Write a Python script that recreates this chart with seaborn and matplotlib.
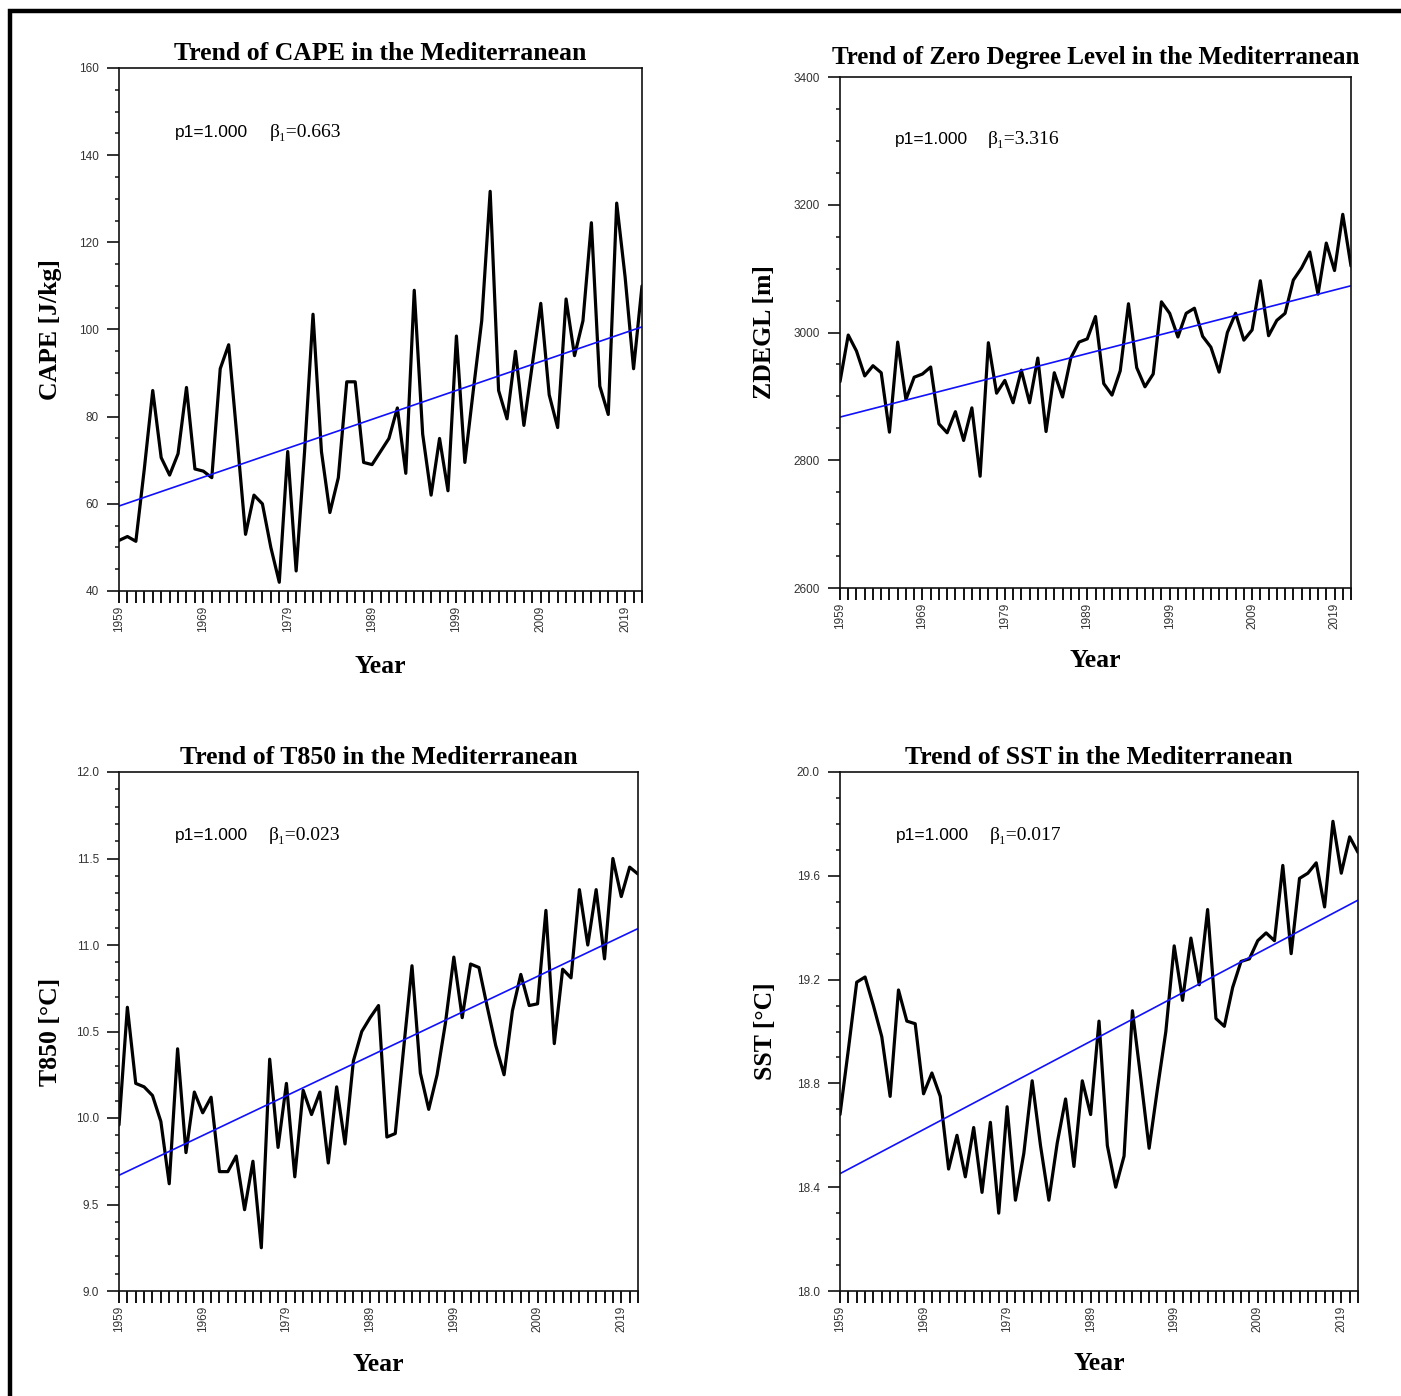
import matplotlib

matplotlib.use("Agg")
import matplotlib.pyplot as plt
import numpy as np
import pandas as pd
import seaborn as sns
from matplotlib.lines import Line2D
from matplotlib.ticker import FixedLocator, FormatStrFormatter, MultipleLocator

# Série anual 1959–2021
years = list(range(1959, 2022))

cape = [51.6, 52.5, 51.4, 68.0, 86.0, 70.6, 66.6, 71.5, 86.7, 68.0, 67.5,
        66.0, 91.0, 96.5, 75.0, 53.0, 62.0, 60.0, 50.0, 42.0, 72.0, 44.6,
        72.0, 103.5, 72.0, 58.0, 66.0, 88.0, 88.0, 69.5, 69.0, 72.0, 75.0,
        82.0, 67.0, 109.0, 76.0, 62.0, 75.0, 63.0, 98.5, 69.5, 86.0, 102.0,
        131.7, 86.0, 79.5, 95.0, 78.0, 92.0, 106.0, 85.0, 77.5, 107.0, 94.0,
        102.0, 124.5, 87.0, 80.5, 129.0, 112.0, 91.0, 110.0]

zdegl = [2923, 2996, 2971, 2932, 2948, 2937, 2844, 2985, 2895, 2930, 2935,
         2946, 2857, 2843, 2876, 2831, 2882, 2775, 2984, 2905, 2925, 2890,
         2941, 2890, 2960, 2845, 2937, 2899, 2960, 2985, 2990, 3025, 2920,
         2902, 2940, 3045, 2945, 2915, 2935, 3048, 3030, 2993, 3030, 3038,
         2994, 2977, 2938, 3000, 3030, 2988, 3004, 3081, 2995, 3019, 3030,
         3082, 3101, 3126, 3060, 3140, 3097, 3185, 3104]

t850 = [9.96, 10.64, 10.20, 10.18, 10.13, 9.98, 9.62, 10.40, 9.80, 10.15,
        10.03, 10.12, 9.69, 9.69, 9.78, 9.47, 9.75, 9.25, 10.34, 9.83, 10.20,
        9.66, 10.16, 10.02, 10.15, 9.74, 10.18, 9.85, 10.33, 10.50, 10.58,
        10.65, 9.89, 9.91, 10.40, 10.88, 10.26, 10.05, 10.25, 10.55, 10.93,
        10.58, 10.89, 10.87, 10.64, 10.42, 10.25, 10.62, 10.83, 10.65, 10.66,
        11.20, 10.43, 10.86, 10.81, 11.32, 11.00, 11.32, 10.92, 11.50, 11.28,
        11.45, 11.41]

sst = [18.68, 18.93, 19.19, 19.21, 19.10, 18.98, 18.75, 19.16, 19.04, 19.03,
       18.76, 18.84, 18.75, 18.47, 18.60, 18.44, 18.63, 18.38, 18.65, 18.30,
       18.71, 18.35, 18.53, 18.81, 18.56, 18.35, 18.57, 18.74, 18.48, 18.81,
       18.68, 19.04, 18.56, 18.40, 18.52, 19.08, 18.82, 18.55, 18.78, 19.00,
       19.33, 19.12, 19.36, 19.18, 19.47, 19.05, 19.02, 19.17, 19.27, 19.28,
       19.35, 19.38, 19.35, 19.64, 19.30, 19.59, 19.61, 19.65, 19.48, 19.81,
       19.61, 19.75, 19.69]

titles = [
    "Trend of CAPE in the Mediterranean",
    "Trend of Zero Degree Level in the Mediterranean",
    "Trend of T850 in the Mediterranean",
    "Trend of SST in the Mediterranean",
]
ylabels = ["CAPE [J/kg]", "ZDEGL [m]", "T850 [°C]", "SST [°C]"]
betas = [0.663, 3.316, 0.023, 0.017]
p1_vals = [1.000, 1.000, 1.000, 1.000]
major_years = list(range(1959, 2020, 10))

W, H = 1401, 1396
SERIF = ["Liberation Serif", "DejaVu Serif"]
SANS = ["Liberation Sans", "DejaVu Sans"]

sns.set_theme(style="ticks")
plt.rcParams["font.family"] = SANS
plt.rcParams["text.color"] = "black"
plt.rcParams["axes.labelcolor"] = "black"
plt.rcParams["axes.titlecolor"] = "black"

# layout em pixels: (esquerda, topo, largura, altura)
panel_cfg = [
    dict(values=cape, rect=(119, 68, 523, 523), ylim=(40, 160), major=20,
         minor=5, fmt="%d", tpad=5.5, tsize=18.5, ylx=-0.109, xly=-0.122),
    dict(values=zdegl, rect=(840, 77, 511, 511), ylim=(2600, 3400),
         major=200, minor=50, fmt="%d", tpad=9.5, tsize=18.0, ylx=-0.125,
         xly=-0.119),
    dict(values=t850, rect=(119, 772, 519, 519), ylim=(9.0, 12.0),
         major=0.5, minor=0.1, fmt="%.1f", tpad=6, tsize=18.5, ylx=-0.11,
         xly=-0.119),
    dict(values=sst, rect=(840, 772, 518, 519), ylim=(18.0, 20.0),
         major=0.4, minor=0.1, fmt="%.1f", tpad=6, tsize=18.5, ylx=-0.122,
         xly=-0.118),
]


def draw_panel(fig, cfg, title, ylabel, beta, p1):
    left, top, w, h = cfg["rect"]
    ax = fig.add_axes([left / W, 1 - (top + h) / H, w / W, h / H])

    df = pd.DataFrame({"Year": years, "value": cfg["values"]})
    # reta de tendência com inclinação beta passando pela média
    xm = df["Year"].mean()
    ym = df["value"].mean()
    df["trend"] = ym + beta * (df["Year"] - xm)

    sns.lineplot(data=df, x="Year", y="value", color="black", linewidth=2.3,
                 ax=ax)
    sns.lineplot(data=df, x="Year", y="trend", color="#1010ff",
                 linewidth=1.2, ax=ax)

    ax.set_xlim(years[0], years[-1])
    ax.set_ylim(*cfg["ylim"])

    ax.xaxis.set_major_locator(FixedLocator(major_years))
    ax.xaxis.set_minor_locator(FixedLocator(years))
    ax.yaxis.set_major_locator(MultipleLocator(cfg["major"]))
    ax.yaxis.set_minor_locator(MultipleLocator(cfg["minor"]))
    ax.yaxis.set_major_formatter(FormatStrFormatter(cfg["fmt"]))

    ax.tick_params(axis="x", which="both", direction="out", length=8.5,
                   width=1.4, color="#111111", pad=2, labelsize=8.5,
                   labelcolor="#333333", labelrotation=90)
    ax.tick_params(axis="y", which="major", direction="out", length=8.5,
                   width=1.2, color="#111111", pad=6, labelsize=8.5,
                   labelcolor="#333333")
    ax.tick_params(axis="y", which="minor", direction="out", length=3,
                   width=1.1, color="#111111")
    for lab in ax.get_xticklabels():
        lab.set_fontfamily(SANS)
    for sp in ax.spines.values():
        sp.set_visible(True)
        sp.set_linewidth(1.2)
        sp.set_color("#111111")

    ax.set_title(title, fontsize=cfg["tsize"], fontweight="bold",
                 family=SERIF, pad=cfg["tpad"], color="black")
    ax.set_ylabel(ylabel, fontsize=18.5, fontweight="bold", family=SERIF,
                  color="black")
    ax.set_xlabel("Year", fontsize=18.5, fontweight="bold", family=SERIF,
                  color="black")
    ax.yaxis.set_label_coords(cfg["ylx"], 0.5)
    ax.xaxis.set_label_coords(0.5, cfg["xly"])

    ax.text(0.107, 0.877, "p1=%.3f" % p1, transform=ax.transAxes,
            fontsize=12.5, family=SANS, va="center", color="black")
    ax.text(0.289, 0.877, "β₁=%.3f" % beta, transform=ax.transAxes,
            fontsize=14, family=SERIF, va="center", color="black")
    return ax


fig = plt.figure(figsize=(W / 100, H / 100), dpi=100)
fig.patch.set_facecolor("white")

for cfg, title, ylabel, beta, p1 in zip(panel_cfg, titles, ylabels, betas,
                                        p1_vals):
    draw_panel(fig, cfg, title, ylabel, beta, p1)

# moldura preta (topo e esquerda)
fig.add_artist(Line2D([9.5 / W, 9.5 / W, 1.0], [0.0, 1 - 11 / H, 1 - 11 / H],
                      transform=fig.transFigure, color="black",
                      linewidth=3.2, solid_joinstyle="miter"))

fig.savefig("out.png", dpi=100)
